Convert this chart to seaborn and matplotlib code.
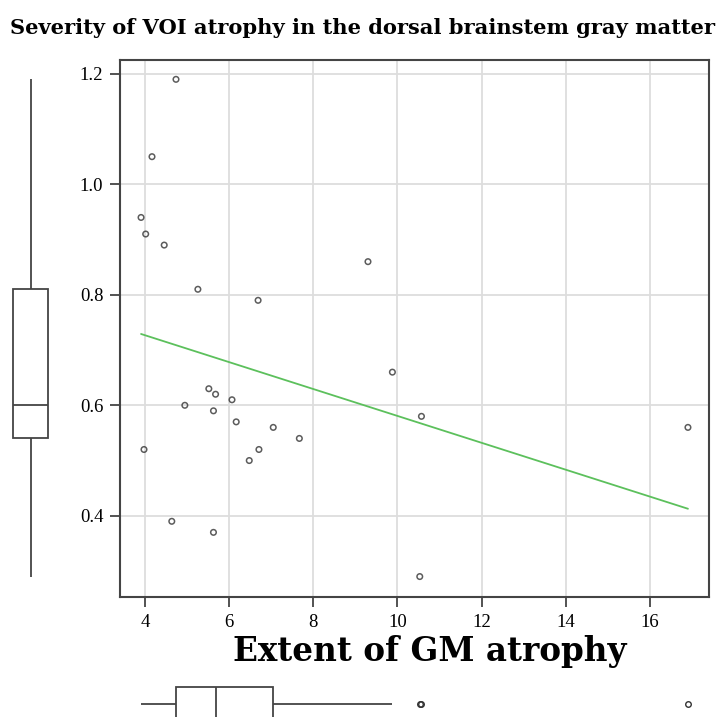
import numpy as np
import pandas as pd
import seaborn as sns
import matplotlib.pyplot as plt

# extent of GM atrophy (x) and severity of VOI atrophy (y)
gm_extent = [4.74, 4.17, 3.91, 4.02, 4.46, 5.26, 6.69, 9.30, 3.98, 4.95,
             5.52, 5.68, 6.07, 5.63, 6.17, 7.05, 7.67, 6.71, 6.48, 4.64,
             5.63, 9.88, 10.57, 10.53, 16.90]
voi_severity = [1.19, 1.05, 0.94, 0.91, 0.89, 0.81, 0.79, 0.86, 0.52, 0.60,
                0.63, 0.62, 0.61, 0.59, 0.57, 0.56, 0.54, 0.52, 0.50, 0.39,
                0.37, 0.66, 0.58, 0.29, 0.56]
x_ticks = [4, 6, 8, 10, 12, 14, 16]
y_ticks = [0.4, 0.6, 0.8, 1.0, 1.2]

df = pd.DataFrame({"gm": gm_extent, "voi": voi_severity})

sns.set_style("white")
plt.rcParams['font.family'] = ['Liberation Serif', 'DejaVu Serif']
plt.rcParams['text.color'] = 'black'
plt.rcParams['xtick.color'] = 'black'
plt.rcParams['ytick.color'] = 'black'

W, H = 724, 717
fig = plt.figure(figsize=(W / 100, H / 100), dpi=100)

def px_box(l, t, r, b):
    return [l / W, 1 - b / H, (r - l) / W, (b - t) / H]

edge = "#444444"

ax = fig.add_axes(px_box(120, 60, 709, 597))
sns.regplot(data=df, x="gm", y="voi", ax=ax, ci=None,
            scatter_kws=dict(s=16, facecolors="none", edgecolors="#333333", linewidths=1.1),
            line_kws=dict(color="#5cc05c", lw=1.3))
ax.set_xlim(3.41, 17.4)
ax.set_ylim(0.253, 1.225)
ax.set_xticks(x_ticks)
ax.set_yticks(y_ticks)
ax.set_yticklabels([f"{v:.1f}" for v in y_ticks])
ax.grid(True, color="#dddddd", lw=1.3)
ax.set_axisbelow(True)
for s in ax.spines.values():
    s.set_color(edge)
    s.set_linewidth(1.5)
ax.tick_params(axis="both", direction="out", length=7, width=1.3, color=edge,
               labelsize=13.5, pad=5, bottom=True, left=True)
ax.set_xlabel("")
ax.set_ylabel("")

fig.text(0.5, 1 - 28 / H, "Severity of VOI atrophy in the dorsal brainstem gray matter",
         ha="center", va="center", fontsize=15.1, fontweight="bold", family="DejaVu Serif")
fig.text(430 / W, 1 - 652 / H, "Extent of GM atrophy", ha="center", va="center",
         fontsize=23.5, fontweight="bold", family="DejaVu Serif")

box_kw = dict(color="white", linecolor=edge, linewidth=1.3, showcaps=False,
              flierprops=dict(marker="o", markersize=4, markerfacecolor="none",
                              markeredgecolor="#333333"))

# marginal box for y
axl = fig.add_axes(px_box(0, 60, 61, 597), sharey=ax)
sns.boxplot(y=voi_severity, ax=axl, width=0.57, **box_kw)
axl.set_xlim(-0.5, 0.5)
axl.axis("off")

# marginal box for x
axb = fig.add_axes(px_box(120, 674, 709, 734), sharex=ax)
sns.boxplot(x=gm_extent, ax=axb, width=0.57, **box_kw)
axb.set_ylim(0.5, -0.5)
axb.axis("off")

fig.savefig("out.png", dpi=100)
